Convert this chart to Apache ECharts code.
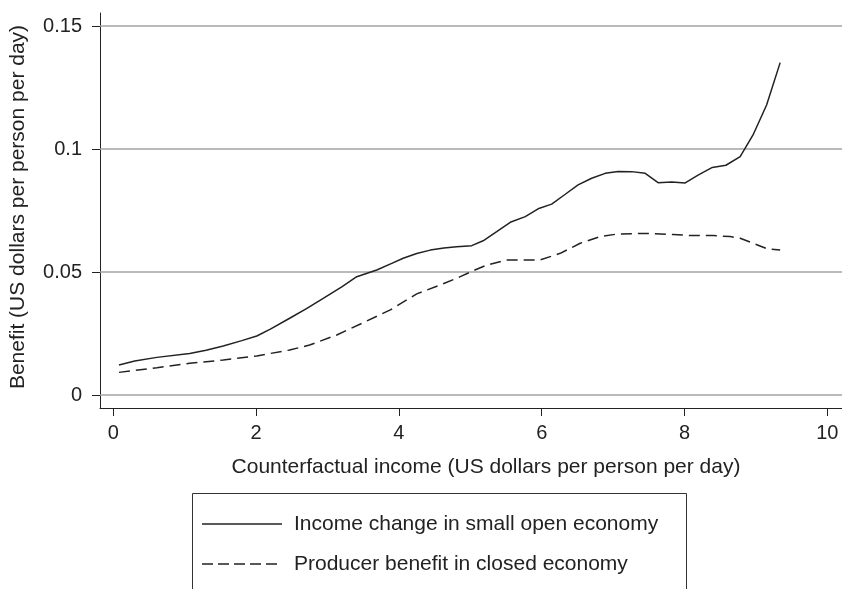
<!DOCTYPE html>
<html>
<head>
<meta charset="utf-8">
<script src="https://cdn.jsdelivr.net/npm/echarts@6/dist/echarts.min.js"></script>
<style>
html,body{margin:0;padding:0;background:#fff;}
#chart{width:842px;height:589px;}
</style>
</head>
<body>
<div id="chart"></div>
<script>
// ---- data ----
const seriesNames = ['Income change in small open economy', 'Producer benefit in closed economy'];

const incomeX = [0.08, 0.30, 0.61, 1.07, 1.30, 1.54, 1.80, 2.01, 2.20, 2.47, 2.70, 2.94, 3.20, 3.41, 3.69, 3.90, 4.06, 4.25, 4.44, 4.63, 4.81, 5.02, 5.18, 5.37, 5.56, 5.77, 5.95, 6.14, 6.33, 6.51, 6.70, 6.89, 7.07, 7.26, 7.45, 7.63, 7.82, 8.01, 8.19, 8.39, 8.58, 8.78, 8.96, 9.15, 9.34];
const incomeY = [0.0122, 0.0138, 0.0153, 0.0169, 0.0182, 0.0199, 0.0221, 0.0240, 0.0268, 0.0312, 0.0350, 0.0393, 0.0440, 0.0481, 0.0508, 0.0535, 0.0556, 0.0575, 0.0589, 0.0598, 0.0603, 0.0607, 0.0627, 0.0664, 0.0702, 0.0725, 0.0757, 0.0776, 0.0816, 0.0854, 0.0881, 0.0901, 0.0909, 0.0908, 0.0901, 0.0863, 0.0866, 0.0862, 0.0894, 0.0925, 0.0934, 0.0969, 0.1057, 0.1179, 0.1351];

const producerX = [0.08, 0.61, 1.07, 1.54, 2.01, 2.47, 2.75, 3.13, 3.50, 3.88, 4.25, 4.62, 4.86, 5.04, 5.23, 5.51, 5.98, 6.26, 6.54, 6.82, 7.05, 7.47, 7.84, 8.12, 8.40, 8.64, 8.78, 8.96, 9.15, 9.34];
const producerY = [0.0092, 0.0111, 0.0129, 0.0142, 0.0159, 0.0183, 0.0203, 0.0244, 0.0294, 0.0346, 0.0411, 0.0452, 0.0481, 0.0505, 0.0528, 0.0549, 0.0549, 0.0576, 0.0617, 0.0644, 0.0654, 0.0657, 0.0652, 0.0648, 0.0648, 0.0644, 0.0637, 0.0617, 0.0595, 0.0589];

const xTicks = [0, 2, 4, 6, 8, 10];
const yTicks = [0, 0.05, 0.1, 0.15];
const xTitle = 'Counterfactual income (US dollars per person per day)';
const yTitle = 'Benefit (US dollars per person per day)';

// ---- chart ----
const FONT = 'Liberation Sans, Arial, Helvetica, sans-serif';
const TXT = '#222';
const LINE = '#222';
const zip = (xs, ys) => xs.map((x, i) => [x, ys[i]]);

const chart = echarts.init(document.getElementById('chart'), null, {renderer: 'canvas'});
chart.setOption({
  animation: false,
  backgroundColor: '#fff',
  grid: {left: 100, right: 0, top: 13, bottom: 181, containLabel: false},
  xAxis: {
    type: 'value',
    min: -0.186, max: 10.206,
    axisLine: {show: true, onZero: false, lineStyle: {color: '#222', width: 1}},
    axisTick: {show: true, length: 8, inside: false, customValues: xTicks, lineStyle: {color: '#222', width: 1}},
    axisLabel: {show: true, customValues: xTicks, margin: 15, fontSize: 20, color: TXT, fontFamily: FONT},
    splitLine: {show: false}
  },
  yAxis: {
    type: 'value',
    min: -0.00528, max: 0.15528,
    axisLine: {show: true, onZero: false, lineStyle: {color: '#222', width: 1}},
    axisTick: {show: true, length: 8, inside: false, customValues: yTicks, lineStyle: {color: '#222', width: 1}},
    axisLabel: {show: true, customValues: yTicks, margin: 18, fontSize: 20, color: TXT, fontFamily: FONT,
      formatter: v => String(+v.toFixed(4))},
    splitLine: {show: false}
  },
  legend: {show: false},
  series: [
    {
      name: seriesNames[0], type: 'line', symbol: 'none', smooth: false,
      lineStyle: {color: LINE, width: 1.5, type: 'solid'},
      itemStyle: {color: LINE},
      data: zip(incomeX, incomeY),
      z: 3,
      markLine: {
        silent: true, symbol: 'none', label: {show: false},
        lineStyle: {color: '#a3a3a3', width: 1.5, type: 'solid'},
        data: yTicks.map(v => ({yAxis: v})),
        z: 1
      }
    },
    {
      name: seriesNames[1], type: 'line', symbol: 'none', smooth: false,
      lineStyle: {color: LINE, width: 1.5, type: [11, 6]},
      itemStyle: {color: LINE},
      data: zip(producerX, producerY),
      z: 3
    }
  ],
  graphic: [
    {type: 'text', x: 486, y: 467, style: {text: xTitle, font: '21px ' + FONT, fill: TXT, align: 'center', verticalAlign: 'middle'}},
    {type: 'text', x: 18, y: 207, rotation: Math.PI / 2, style: {text: yTitle, font: '21px ' + FONT, fill: TXT, align: 'center', verticalAlign: 'middle'}},
    // legend box
    {type: 'rect', shape: {x: 192.5, y: 493.5, width: 494, height: 120}, style: {fill: 'none', stroke: '#333', lineWidth: 1}},
    {type: 'line', shape: {x1: 202, y1: 524, x2: 282, y2: 524}, style: {stroke: LINE, lineWidth: 1.5}},
    {type: 'text', x: 294, y: 524, style: {text: seriesNames[0], font: '21px ' + FONT, fill: TXT, align: 'left', verticalAlign: 'middle'}},
    {type: 'line', shape: {x1: 202, y1: 564, x2: 282, y2: 564}, style: {stroke: LINE, lineWidth: 1.5, lineDash: [11, 5]}},
    {type: 'text', x: 294, y: 564, style: {text: seriesNames[1], font: '21px ' + FONT, fill: TXT, align: 'left', verticalAlign: 'middle'}}
  ]
});
</script>
</body>
</html>
